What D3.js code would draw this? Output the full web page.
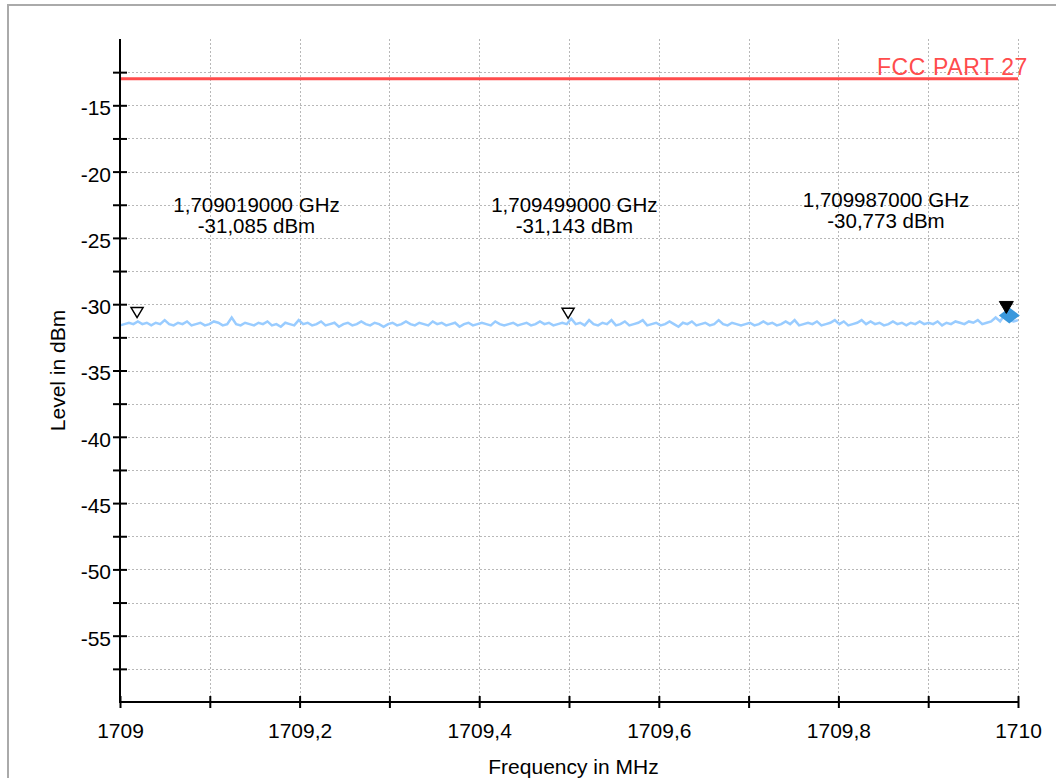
<!DOCTYPE html>
<html>
<head>
<meta charset="utf-8">
<script src="https://cdn.jsdelivr.net/npm/d3@7"></script>
<style>
  html, body { margin: 0; padding: 0; background: #fff; }
  svg { display: block; }
  text { font-family: "Liberation Sans", Arial, sans-serif; }
</style>
</head>
<body>
<svg id="chart" width="1056" height="778"></svg>
<script>
// ---------------- DATA ----------------
const freqStartMHz = 1709.0;
const freqStopMHz = 1710.0;
const yTickValues = [-12.5, -15, -17.5, -20, -22.5, -25, -27.5, -30, -32.5, -35, -37.5, -40, -42.5, -45, -47.5, -50, -52.5, -55, -57.5];
const yTickLabels = [-15, -20, -25, -30, -35, -40, -45, -50, -55];
const xTickValues = [1709.0, 1709.1, 1709.2, 1709.3, 1709.4, 1709.5, 1709.6, 1709.7, 1709.8, 1709.9, 1710.0];
const xTickLabels = [1709.0, 1709.2, 1709.4, 1709.6, 1709.8, 1710.0];
const limitName = "FCC PART 27";
const limitLevel = -13;
// measured trace (dBm), equally spaced sweep points from start to stop
const traceLevels = [
  -31.6,-31.5,-31.4,-31.5,-31.3,-31.5,-31.4,-31.6,-31.4,-31.5,-31.2,-31.5,-31.6,-31.4,-31.5,-31.3,-31.6,-31.5,-31.4,-31.6,-31.5,
  -31.3,-31.4,-31.6,-31.5,-31.0,-31.5,-31.6,-31.4,-31.5,-31.6,-31.4,-31.5,-31.3,-31.6,-31.5,-31.7,-31.4,-31.5,-31.6,-31.2,
  -31.5,-31.4,-31.6,-31.5,-31.3,-31.6,-31.5,-31.4,-31.7,-31.5,-31.4,-31.6,-31.5,-31.3,-31.5,-31.6,-31.4,-31.5,-31.7,-31.5,
  -31.4,-31.6,-31.5,-31.3,-31.5,-31.6,-31.4,-31.5,-31.6,-31.3,-31.5,-31.4,-31.6,-31.5,-31.4,-31.7,-31.5,-31.4,-31.6,-31.5,
  -31.4,-31.5,-31.6,-31.3,-31.5,-31.6,-31.5,-31.4,-31.6,-31.5,-31.4,-31.6,-31.5,-31.3,-31.5,-31.4,-31.6,-31.5,-31.4,-31.5,
  -31.1,-31.5,-31.4,-31.6,-31.2,-31.5,-31.6,-31.4,-31.5,-31.2,-31.6,-31.5,-31.3,-31.6,-31.5,-31.4,-31.2,-31.6,-31.5,-31.4,
  -31.6,-31.5,-31.3,-31.5,-31.7,-31.4,-31.5,-31.3,-31.6,-31.5,-31.4,-31.6,-31.5,-31.2,-31.5,-31.6,-31.4,-31.5,-31.6,-31.5,
  -31.4,-31.6,-31.5,-31.3,-31.5,-31.4,-31.6,-31.5,-31.3,-31.5,-31.2,-31.6,-31.5,-31.4,-31.5,-31.3,-31.6,-31.5,-31.4,-31.2,
  -31.5,-31.3,-31.6,-31.5,-31.4,-31.2,-31.5,-31.3,-31.5,-31.4,-31.6,-31.5,-31.3,-31.5,-31.4,-31.6,-31.4,-31.5,-31.3,-31.5,
  -31.4,-31.5,-31.3,-31.6,-31.4,-31.5,-31.3,-31.4,-31.5,-31.3,-31.4,-31.2,-31.5,-31.4,-31.3,-31.0,-31.3,-30.8,-31.2,-31.3,-31.2
];
const markerFreqsMHz = [1709.019, 1709.499, 1709.987];
const markerLevels = [-31.085, -31.143, -30.773];
const markerFreqLabels = ["1,709019000 GHz", "1,709499000 GHz", "1,709987000 GHz"];
const markerLevelLabels = ["-31,085 dBm", "-31,143 dBm", "-30,773 dBm"];
const markerActive = [false, false, true];
const markerLabelFreqMHz = [1709.152, 1709.506, 1709.853];
const markerLabelLevel = [-23.05, -23.05, -22.67];
const xTitle = "Frequency in MHz";
const yTitle = "Level in dBm";

// ---------------- LAYOUT ----------------
const svg = d3.select("#chart");
const plotL = 120, plotR = 1018, plotT = 39, plotB = 702;
const x = d3.scaleLinear().domain([freqStartMHz, freqStopMHz]).range([plotL, plotR]);
const y = d3.scaleLinear().domain([-60, -10]).range([plotB, plotT]);
const fmt = d => String(+d.toFixed(1)).replace(".", ",");

// frame
svg.append("rect").attr("x", 8).attr("y", 5).attr("width", 1100).attr("height", 900)
  .attr("fill", "#fff").attr("stroke", "#aaaaaa").attr("stroke-width", 2);

// grid
const grid = svg.append("g").attr("stroke", "#b8b8b8").attr("stroke-width", 1).attr("stroke-dasharray", "2,2");
grid.selectAll("line.h").data(yTickValues).join("line").attr("class", "h")
  .attr("x1", plotL).attr("x2", plotR)
  .attr("y1", d => Math.round(y(d)) + 0.5).attr("y2", d => Math.round(y(d)) + 0.5);
grid.selectAll("line.v").data(xTickValues.filter(d => d > freqStartMHz)).join("line").attr("class", "v")
  .attr("x1", d => Math.round(x(d)) + 0.5).attr("x2", d => Math.round(x(d)) + 0.5)
  .attr("y1", plotT).attr("y2", plotB);

// limit line
svg.append("line").attr("x1", x(freqStartMHz)).attr("x2", x(freqStopMHz))
  .attr("y1", y(limitLevel)).attr("y2", y(limitLevel))
  .attr("stroke", "#ff4c4c").attr("stroke-width", 3);
svg.append("text").attr("x", x(freqStopMHz) + 10).attr("y", y(limitLevel) - 4)
  .attr("text-anchor", "end").attr("fill", "#ff4c4c").attr("font-size", 23)
  .attr("letter-spacing", 0.6).text(limitName);

// trace
const n = traceLevels.length;
const tracePts = traceLevels.map((v, i) => [freqStartMHz + (freqStopMHz - freqStartMHz) * i / (n - 1), v]);
svg.append("path").datum(tracePts)
  .attr("d", d3.line().x(d => x(d[0])).y(d => y(d[1])))
  .attr("fill", "none").attr("stroke", "#99ccff").attr("stroke-width", 2.5);

// axes
const yAxis = d3.axisLeft(y).tickValues(yTickValues).tickSize(7).tickFormat(d => yTickLabels.includes(d) ? fmt(d) : "");
const gy = svg.append("g").attr("transform", `translate(${plotL},0)`).call(yAxis);
gy.select(".domain").remove();
gy.selectAll(".tick line").attr("x1", 7).attr("x2", -7).attr("stroke", "#000").attr("stroke-width", 2);
gy.selectAll(".tick text").attr("x", -9).attr("dy", "0.45em").attr("font-size", 21)
  .attr("font-family", "Liberation Sans, Arial, sans-serif").attr("fill", "#000");
svg.append("line").attr("x1", plotL).attr("x2", plotL).attr("y1", plotT).attr("y2", plotB + 1)
  .attr("stroke", "#000").attr("stroke-width", 2);

const xAxis = d3.axisBottom(x).tickValues(xTickValues).tickSize(6)
  .tickFormat(d => xTickLabels.some(v => Math.abs(v - d) < 1e-9) ? fmt(d) : "");
const gx = svg.append("g").attr("transform", `translate(0,${plotB})`).call(xAxis);
gx.select(".domain").remove();
gx.selectAll(".tick line").attr("y1", -6).attr("y2", 6).attr("stroke", "#000").attr("stroke-width", 2);
gx.selectAll(".tick text").attr("y", 21).attr("dy", "0.71em").attr("font-size", 21)
  .attr("font-family", "Liberation Sans, Arial, sans-serif").attr("fill", "#000");
svg.append("line").attr("x1", plotL - 1).attr("x2", plotR).attr("y1", plotB).attr("y2", plotB)
  .attr("stroke", "#000").attr("stroke-width", 2);

// axis titles
svg.append("text").attr("x", x(1709.505)).attr("y", 774).attr("text-anchor", "middle")
  .attr("font-size", 21).text(xTitle);
svg.append("text").attr("transform", `translate(65,${(plotT + plotB) / 2}) rotate(-90)`)
  .attr("text-anchor", "middle").attr("font-size", 21).text(yTitle);

// markers
markerFreqsMHz.forEach((f, i) => {
  const mx = x(f), my = y(markerLevels[i]);
  if (markerActive[i]) {
    svg.append("path")
      .attr("d", d3.symbol().type(d3.symbolSquare).size(200)())
      .attr("transform", `translate(${mx + 3},${my + 1}) scale(1.05,0.8) rotate(45)`)
      .attr("fill", "#3a98dc");
    svg.append("path").attr("d", `M${mx - 7},${my - 13} L${mx + 7},${my - 13} L${mx},${my - 1} Z`)
      .attr("fill", "#000").attr("stroke", "#000").attr("stroke-width", 1);
  } else {
    svg.append("path").attr("d", `M${mx - 6},${my - 11} L${mx + 6},${my - 11} L${mx},${my - 1} Z`)
      .attr("fill", "#fff").attr("stroke", "#000").attr("stroke-width", 1.5);
  }
  const lx = x(markerLabelFreqMHz[i]), ly = y(markerLabelLevel[i]);
  svg.append("text").attr("x", lx).attr("y", ly).attr("text-anchor", "middle")
    .attr("font-size", 20.5).attr("fill", "#000").text(markerFreqLabels[i]);
  svg.append("text").attr("x", lx).attr("y", ly + 21).attr("text-anchor", "middle")
    .attr("font-size", 20.5).attr("fill", "#000").text(markerLevelLabels[i]);
});
</script>
</body>
</html>
